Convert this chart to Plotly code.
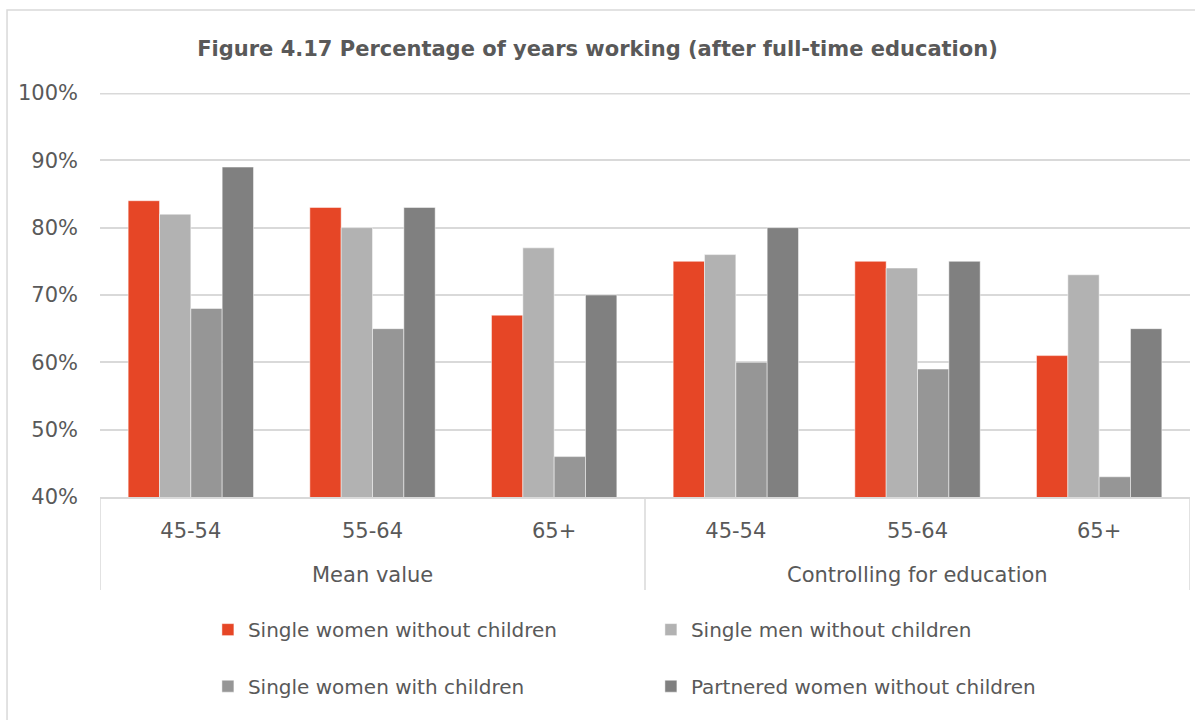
import plotly.graph_objects as go

groups = ["Mean value", "Controlling for education"]
ages = ["45-54", "55-64", "65+"]
cat_keys = [f"{g} {a}" for g in groups for a in ages]
cat_labels = [a for g in groups for a in ages]

series_names = [
    "Single women without children",
    "Single men without children",
    "Single women with children",
    "Partnered women without children",
]
single_women_no_children = [84, 83, 67, 75, 75, 61]
single_men_no_children = [82, 80, 77, 76, 74, 73]
single_women_children = [68, 65, 46, 60, 59, 43]
partnered_women_no_children = [89, 83, 70, 80, 75, 65]
colors = ["#E64626", "#B2B2B2", "#969696", "#808080"]

values = [single_women_no_children, single_men_no_children,
          single_women_children, partnered_women_no_children]

y_ticks = [40, 50, 60, 70, 80, 90, 100]
y_ticktext = [f"{v}%" for v in y_ticks]

FONT = "DejaVu Sans"
TXT = "#595959"
GRID = "#D9D9D9"

fig = go.Figure()
for i, (name, vals, col) in enumerate(zip(series_names, values, colors)):
    fig.add_trace(go.Bar(
        x=cat_keys, y=vals, name=name,
        marker=dict(color=col, line=dict(color="rgba(255,255,255,0.6)", width=0.8)),
        legend="legend" if i < 2 else "legend2",
    ))

fig.update_layout(
    width=1195, height=720,
    margin=dict(l=100, r=5, t=93, b=223, autoexpand=False),
    paper_bgcolor="white", plot_bgcolor="white",
    barmode="group", bargap=0.31, bargroupgap=0,
    font=dict(family=FONT, color=TXT, size=19),
    title=dict(text="<b>Figure 4.17 Percentage of years working (after full-time education)</b>",
               x=0.5, xref="container", xanchor="center", y=0.933, yanchor="middle",
               font=dict(family=FONT, size=21, color=TXT)),
    showlegend=True,
    legend=dict(orientation="h", x=0.099, xanchor="left", y=-0.28, yanchor="top",
                entrywidth=398, entrywidthmode="pixels",
                font=dict(family=FONT, size=20, color=TXT), bgcolor="rgba(0,0,0,0)"),
    legend2=dict(orientation="h", x=0.099, xanchor="left", y=-0.42, yanchor="top",
                 entrywidth=398, entrywidthmode="pixels",
                 font=dict(family=FONT, size=20, color=TXT), bgcolor="rgba(0,0,0,0)"),
)
fig.update_yaxes(range=[y_ticks[0], y_ticks[-1]], tickmode="array", tickvals=y_ticks, ticktext=y_ticktext,
                 showgrid=True, gridcolor=GRID, gridwidth=1.5,
                 zeroline=False, showline=False, ticks="",
                 ticklabelstandoff=21,
                 tickfont=dict(family=FONT, size=21, color=TXT))
fig.update_xaxes(type="category", tickmode="array", tickvals=cat_keys, ticktext=cat_labels,
                 showline=True, linecolor=GRID, linewidth=1.5, range=[-0.5, len(cat_keys) - 0.5],
                 ticks="", ticklabelstandoff=14,
                 tickfont=dict(family=FONT, size=21, color=TXT))

# top gridline (plotly omits gridlines on the plot edge; half of it is clipped)
fig.add_shape(type="line", xref="paper", yref="y", x0=0, x1=1, y0=y_ticks[-1], y1=y_ticks[-1],
              line=dict(color=GRID, width=3), layer="below")

# group dividers and group labels
n_per = len(ages)
for k in range(len(groups) + 1):
    xd = k * n_per - 0.5
    fig.add_shape(type="line", xref="x", yref="paper", x0=xd, x1=xd, y0=0, y1=-0.23,
                  line=dict(color=GRID, width=1.5))
for k, g in enumerate(groups):
    fig.add_annotation(text=g, xref="x", yref="paper", x=k * n_per + (n_per - 1) / 2,
                       y=-0.193, yanchor="middle", showarrow=False,
                       font=dict(family=FONT, size=21, color=TXT))

fig.add_shape(type="rect", xref="paper", yref="paper",
              x0=-0.0853, x1=1.02, y0=-0.7, y1=1.2054,
              line=dict(color=GRID, width=1.5), fillcolor="rgba(0,0,0,0)", layer="below")

fig.write_html("out.html")
